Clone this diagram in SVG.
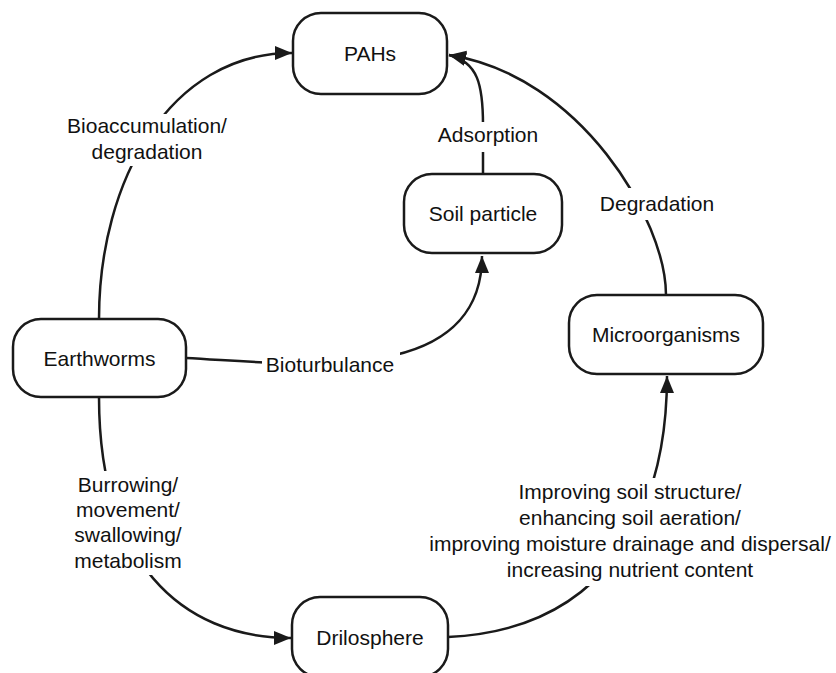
<svg xmlns="http://www.w3.org/2000/svg" width="836" height="673" viewBox="0 0 836 673">
<style>
.node rect{fill:#fff;stroke:#1a1a1a;stroke-width:2.5}
.node text,.lbl text{font-family:"Liberation Sans",Arial,sans-serif;font-size:21px;fill:#111;text-anchor:middle}
.edge{fill:none;stroke:#1a1a1a;stroke-width:2.5}
.lbl rect{fill:#fff}
</style>
<defs>
<marker id="arr" markerUnits="userSpaceOnUse" markerWidth="20" markerHeight="16" refX="17" refY="7" orient="auto">
<path d="M0,0 L17,7 L0,14 Z" fill="#1a1a1a"/>
</marker>
</defs>
<rect width="836" height="673" fill="#fff"/>
<g id="connectors">
<path class="edge" d="M99,319 C99,180 170,53 292,53" marker-end="url(#arr)"/>
<path class="edge" d="M99,397 C99,560 180,638 291,638" marker-end="url(#arr)"/>
<path class="edge" d="M186,358 C260,362 330,370 395,355 C450,342 482,310 482,256" marker-end="url(#arr)"/>
<path class="edge" d="M483,174 L483,125 C483,85 478,62 449,55" marker-end="url(#arr)"/>
<path class="edge" d="M666,295 C666,220 580,75 449,55" marker-end="url(#arr)"/>
<path class="edge" d="M448,637 C600,630 667,520 667,376" marker-end="url(#arr)"/>
</g>
<g id="labels">
<g class="lbl" id="lbl-bioacc"><rect x="64" y="114" width="166" height="52"/><text x="147" y="133">Bioaccumulation/</text><text x="147" y="159">degradation</text></g>
<g class="lbl" id="lbl-burrow"><rect x="72" y="471" width="112" height="104"/><text x="128" y="492">Burrowing/</text><text x="128" y="517">movement/</text><text x="128" y="542">swallowing/</text><text x="128" y="568">metabolism</text></g>
<g class="lbl" id="lbl-biotur"><rect x="262" y="350" width="138" height="28"/><text x="330" y="372">Bioturbulance</text></g>
<g class="lbl" id="lbl-adsorp"><rect x="434" y="122" width="108" height="30"/><text x="488" y="142">Adsorption</text></g>
<g class="lbl" id="lbl-degrad"><rect x="596" y="188" width="120" height="32"/><text x="657" y="211">Degradation</text></g>
<g class="lbl" id="lbl-improve"><rect x="426" y="478" width="408" height="108"/><text x="630" y="499">Improving soil structure/</text><text x="630" y="525">enhancing soil aeration/</text><text x="630" y="551">improving moisture drainage and dispersal/</text><text x="630" y="577">increasing nutrient content</text></g>
</g>
<g class="node" id="pahs"><rect x="293" y="13" width="154" height="81" rx="28"/><text x="370" y="61">PAHs</text></g>
<g class="node" id="earthworms"><rect x="13" y="319" width="173" height="78" rx="28"/><text x="99.5" y="365.5">Earthworms</text></g>
<g class="node" id="soil"><rect x="404" y="174" width="158" height="79" rx="28"/><text x="483" y="221">Soil particle</text></g>
<g class="node" id="micro"><rect x="569" y="295" width="194" height="79" rx="28"/><text x="666" y="342">Microorganisms</text></g>
<g class="node" id="drilo"><rect x="292" y="597" width="156" height="80" rx="28"/><text x="370" y="645">Drilosphere</text></g>
</svg>
